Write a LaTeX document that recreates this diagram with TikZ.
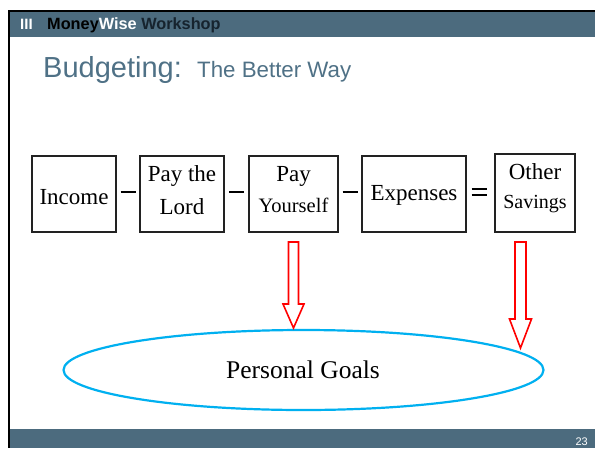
\documentclass[tikz,border=0pt]{standalone}
\usepackage{fontspec}
\setmainfont{Liberation Serif}
\newfontfamily\hsans{Liberation Sans}
\usetikzlibrary{calc,shapes.geometric}
\definecolor{barblue}{HTML}{4C6B7E}
\definecolor{titleblue}{HTML}{4F7186}
\definecolor{navy}{HTML}{16232E}
\definecolor{goalblue}{HTML}{00B0F0}
\definecolor{boxline}{HTML}{222222}
\tikzset{
  box/.style={draw=boxline, line width=1.3pt, inner sep=0pt, minimum height=76pt},
  boxtext/.style={anchor=base, inner sep=0pt, font=\fontsize{23}{26}\selectfont},
  smalltext/.style={anchor=base, inner sep=0pt, font=\fontsize{20.5}{24}\selectfont},
  minus/.style={line width=2.2pt, black},
  redarrow/.style={draw=red, line width=1.6pt, line join=miter},
  goal/.style={ellipse, draw=goalblue, line width=2.2pt, minimum width=480pt, minimum height=80pt, inner sep=0pt}
}
\begin{document}
\begin{tikzpicture}[x=1pt,y=-1pt]
\useasboundingbox (0,0) rectangle (595,448);
\fill[white] (0,0) rectangle (595,448);
% frame, header and footer
\fill[barblue] (10,12) rectangle (595,37);
\fill[barblue] (10,429) rectangle (595,448);
\fill[black] (8,10) rectangle (595,12);
\fill[black] (7.5,10) rectangle (10,448);
\node[anchor=base west, inner sep=0pt, font=\hsans\bfseries\fontsize{15}{18}\selectfont, text=white] (hdr1) at (20,29) {III};
\node[anchor=base west, inner sep=0pt, font=\hsans\bfseries\fontsize{16.3}{19}\selectfont] (hdr) at (47,29)
  {\textcolor{black}{Money}\textcolor{white}{Wise} \textcolor{navy}{Workshop}};
\node[anchor=base east, inner sep=0pt, text=white, font=\hsans\fontsize{11}{13}\selectfont] (pg) at (588,445) {23};
% title
\node[anchor=base west, inner sep=0pt, text=titleblue, font=\hsans\fontsize{29}{34}\selectfont] (t1) at (43,77) {Budgeting:};
\node[anchor=base west, inner sep=0pt, text=titleblue, font=\hsans\fontsize{22.3}{26}\selectfont] (t2) at (197,77) {The Better Way};
% boxes
\node[box, minimum width=84pt] (inc) at (74,194) {};
\node[box, minimum width=84pt] (lord) at (182,194) {};
\node[box, minimum width=89pt] (self) at (293.5,194) {};
\node[box, minimum width=104pt] (exp) at (414,194) {};
\node[box, minimum width=80pt, minimum height=78pt] (oth) at (535,193) {};
\node[boxtext] (incT) at (74,204) {Income};
\node[boxtext] (lordA) at (182,181) {Pay the};
\node[boxtext] (lordB) at (182,214) {Lord};
\node[boxtext] (selfA) at (293.5,181) {Pay};
\node[smalltext] (selfB) at (293.5,212) {Yourself};
\node[boxtext] (expT) at (414,200) {Expenses};
\node[boxtext] (othA) at (535,179) {Other};
\node[smalltext, font=\fontsize{20}{24}\selectfont] (othB) at (535,208) {Savings};
% operators
\coordinate (m1) at ($(inc.east)!0.5!(lord.west)$);
\coordinate (m2) at ($(lord.east)!0.5!(self.west)$);
\coordinate (m3) at ($(self.east)!0.5!(exp.west)$);
\coordinate (m4) at ($(exp.east)!0.5!(oth.west)$);
\draw[minus] ($(m1)+(-7.5,-2)$) -- ($(m1)+(7.5,-2)$);
\draw[minus] ($(m2)+(-7.5,-2)$) -- ($(m2)+(7.5,-2)$);
\draw[minus] ($(m3)+(-7.5,-2)$) -- ($(m3)+(7.5,-2)$);
\draw[minus, line width=2pt] ($(m4)+(-9,-5)$) -- ($(m4)+(6,-5)$);
\draw[minus, line width=2pt] ($(m4)+(-9,1.5)$) -- ($(m4)+(6,1.5)$);
% goal ellipse
\node[goal] (goals) at (303.5,370) {};
\node[anchor=base, inner sep=0pt, font=\fontsize{25.5}{30}\selectfont] (goalT) at (303,378) {Personal Goals};
% block arrows
\coordinate (a1) at (293.5,242);
\coordinate (a2) at (520.5,242);
\draw[redarrow, shift={(a1)}] (-5,0) -- (-5,62) -- (-10.5,62) -- (0,86) -- (10.5,62) -- (5,62) -- (5,0) -- cycle;
\draw[redarrow, shift={(a2)}] (-5.5,0) -- (-5.5,77) -- (-11,77) -- (0,106) -- (11,77) -- (5.5,77) -- (5.5,0) -- cycle;
\end{tikzpicture}
\end{document}
